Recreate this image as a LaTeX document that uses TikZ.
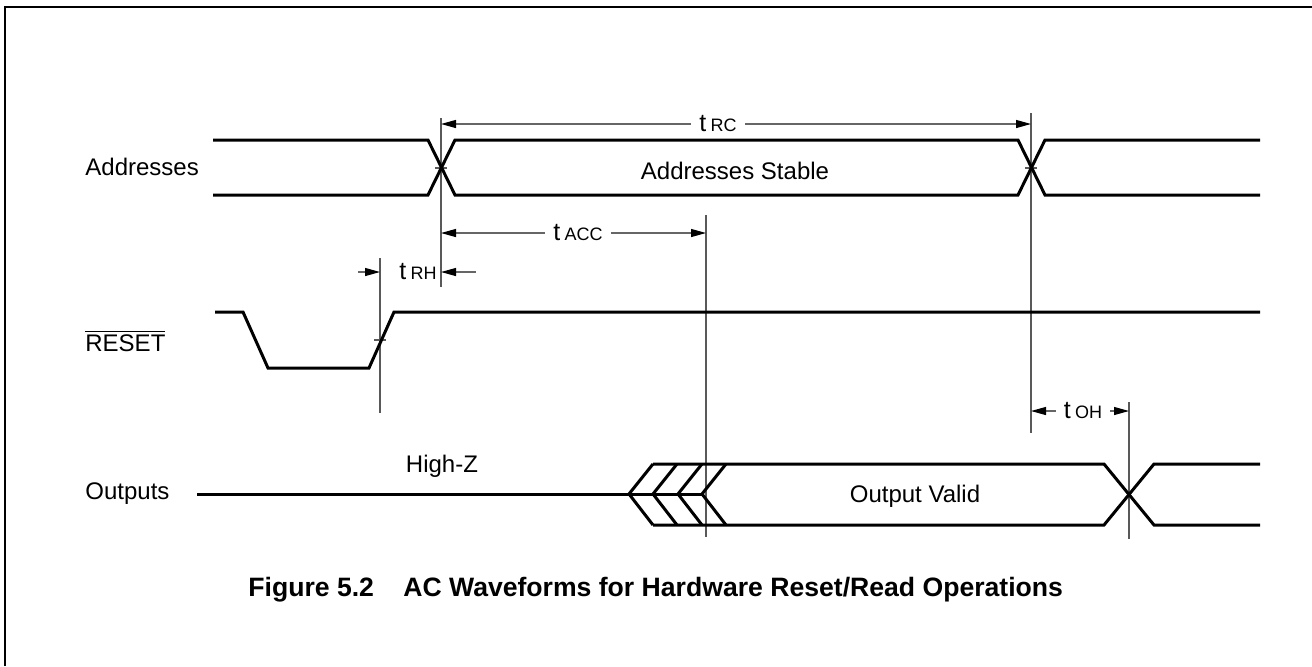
\documentclass[tikz,border=0pt]{standalone}
\usepackage{fontspec}
\setmainfont{Liberation Sans}
\usetikzlibrary{
  calc,
  positioning,
  arrows.meta
}
\newcommand{\tlab}[1]{t\,{\fontsize{9}{10}\selectfont #1}}
\tikzset{
  wave/.style={line width=1.5pt, line join=miter},
  marker/.style={draw=black!65, line width=0.6pt},
  dim/.style={
    draw=black!60,
    line width=0.6pt,
    -{Triangle[length=7.5pt,width=4pt,color=black]}
  }
}

\begin{document}
\begin{tikzpicture}[
  x=0.5pt, y=-0.5pt,
  signame/.style={anchor=west, inner sep=0pt, font=\fontsize{12}{14}\selectfont},
  inlabel/.style={inner sep=0pt, font=\fontsize{12}{14}\selectfont},
  timelabel/.style={inner sep=4pt, font=\fontsize{12.5}{14}\selectfont}
]
  \useasboundingbox (0,0) rectangle (1312,666);

  % frame
  \draw[line width=1pt] (5,666) -- (5,7) -- (1312,7);

  % timing marks
  \coordinate (xRH) at (380,340);
  \coordinate (xA) at (441,168);
  \coordinate (xACC) at (706,494);
  \coordinate (xB) at (1031,168);
  \coordinate (xOH) at (1129,494);

  \draw[marker] (xRH |- 0,258) -- (xRH |- 0,413);
  \draw[marker] (xA |- 0,118) -- (xA |- 0,287);
  \draw[marker] (xACC |- 0,215) -- (xACC |- 0,537);
  \draw[marker] (xB |- 0,113) -- (xB |- 0,433);
  \draw[marker] (xOH |- 0,402) -- (xOH |- 0,539);

  \draw[marker] ($(xRH)+(-6,0)$) -- ($(xRH)+(6,0)$);
  \draw[marker] ($(xA)+(-6,0)$) -- ($(xA)+(6,0)$);
  \draw[marker] ($(xB)+(-6,0)$) -- ($(xB)+(6,0)$);

  % signal names
  \node[signame] (addr) at (85,167) {Addresses};
  \node[signame] (rst) at (85,341) {$\overline{\mbox{RESET}}$};
  \node[signame] (outs) at (85,494) {Outputs};

  % addresses
  \draw[wave] (213,140) -- (428,140) -- (455,195) -- (1018,195) -- (1045,140) -- (1260,140);
  \draw[wave] (213,195) -- (428,195) -- (455,140) -- (1018,140) -- (1045,195) -- (1260,195);
  \node[inlabel] (stable) at (735,171) {Addresses Stable};

  % reset
  \draw[wave] (215,312) -- (243,312) -- (268,368) -- (369,368) -- (394,312) -- (1260,312);

  % outputs
  \draw[wave] (197,494) -- (702,494);
  \foreach \x in {629,653,678,702}
    \draw[wave] (\x+24,464) -- (\x,494) -- (\x+24,525);
  \draw[wave] (653,464) -- (1104,464) -- (1154,525) -- (1260,525);
  \draw[wave] (653,525) -- (1104,525) -- (1154,464) -- (1260,464);
  \node[inlabel] (highz) at (442,466) {High-Z};
  \node[inlabel] (valid) at (915,496) {Output Valid};

  % timing parameters
  \node[timelabel] (trc) at (718,124) {\tlab{RC}};
  \draw[dim] (trc.west) -- (xA |- trc);
  \draw[dim] (trc.east) -- (xB |- trc);

  \node[timelabel] (tacc) at (578,233) {\tlab{ACC}};
  \draw[dim] (tacc.west) -- (xA |- tacc);
  \draw[dim] (tacc.east) -- (xACC |- tacc);

  \node[timelabel] (trh) at (418,272) {\tlab{RH}};
  \coordinate (rhL) at (358,272);
  \coordinate (rhR) at (476,272);
  \draw[dim] (rhL) -- (xRH |- trh);
  \draw[dim] (rhR) -- (xA |- trh);

  \node[timelabel] (toh) at (1083,411) {\tlab{OH}};
  \draw[dim] (toh.west) -- (xB |- toh);
  \draw[dim] (toh.east) -- (xOH |- toh);

  \node[anchor=west, inner sep=0pt, font=\bfseries\fontsize{13.3}{15}\selectfont] (cap) at (248,590)
    {Figure 5.2\hspace{1.1em}AC Waveforms for Hardware Reset/Read Operations};
\end{tikzpicture}
\end{document}
